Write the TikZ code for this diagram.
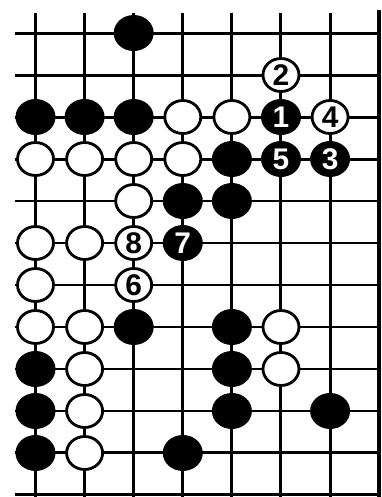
\documentclass[tikz,border=0pt]{standalone}
\usepackage{fontspec}
\setmainfont{Liberation Sans}
\usepackage{tikz}
\usetikzlibrary{shapes.geometric}

\begin{document}
\begin{tikzpicture}[x=0.982cm, y=-0.84cm,
  gridline/.style={line width=1.7pt, line cap=butt},
  edgeline/.style={line width=2.2pt},
  blk/.style={ellipse, fill=black, minimum width=0.80cm, minimum height=0.72cm, inner sep=0pt, text=white, font=\fontsize{17}{17}\selectfont\bfseries},
  wht/.style={ellipse, draw=black, line width=1.6pt, fill=white, minimum width=0.72cm, minimum height=0.66cm, inner sep=0pt, font=\fontsize{17}{17}\selectfont\bfseries}]
\useasboundingbox[fill=white] (0.277,0.214) rectangle (8.057,12.048);

% Board lines
\foreach \r in {1,...,12}
  \draw[gridline] (0.58,\r) -- (8,\r);
\foreach \c in {1,...,7}
  \draw[gridline] (\c,0.52) -- (\c,12.048);
\draw[edgeline] (8,0.45) -- (8,12.048);

% Top
\node[blk] (b31) at (3,1) {};
\node[wht] (w62) at (6,2) {2};

% Row 3
\node[blk] (b13) at (1,3) {};
\node[blk] (b23) at (2,3) {};
\node[blk] (b33) at (3,3) {};
\node[wht] (w43) at (4,3) {};
\node[wht] (w53) at (5,3) {};
\node[blk] (b63) at (6,3) {1};
\node[wht] (w73) at (7,3) {4};

% Row 4
\node[wht] (w14) at (1,4) {};
\node[wht] (w24) at (2,4) {};
\node[wht] (w34) at (3,4) {};
\node[wht] (w44) at (4,4) {};
\node[blk] (b54) at (5,4) {};
\node[blk] (b64) at (6,4) {5};
\node[blk] (b74) at (7,4) {3};

% Middle
\node[wht] (w35) at (3,5) {};
\node[blk] (b45) at (4,5) {};
\node[blk] (b55) at (5,5) {};
\node[wht] (w16) at (1,6) {};
\node[wht] (w26) at (2,6) {};
\node[wht] (w36) at (3,6) {8};
\node[blk] (b46) at (4,6) {7};
\node[wht] (w17) at (1,7) {};
\node[wht] (w37) at (3,7) {6};

% Lower part
\node[wht] (w18) at (1,8) {};
\node[wht] (w28) at (2,8) {};
\node[blk] (b38) at (3,8) {};
\node[blk] (b58) at (5,8) {};
\node[wht] (w68) at (6,8) {};
\node[blk] (b19) at (1,9) {};
\node[wht] (w29) at (2,9) {};
\node[blk] (b59) at (5,9) {};
\node[wht] (w69) at (6,9) {};
\node[blk] (b110) at (1,10) {};
\node[wht] (w210) at (2,10) {};
\node[blk] (b510) at (5,10) {};
\node[blk] (b710) at (7,10) {};
\node[blk] (b111) at (1,11) {};
\node[wht] (w211) at (2,11) {};
\node[blk] (b411) at (4,11) {};
\end{tikzpicture}
\end{document}
